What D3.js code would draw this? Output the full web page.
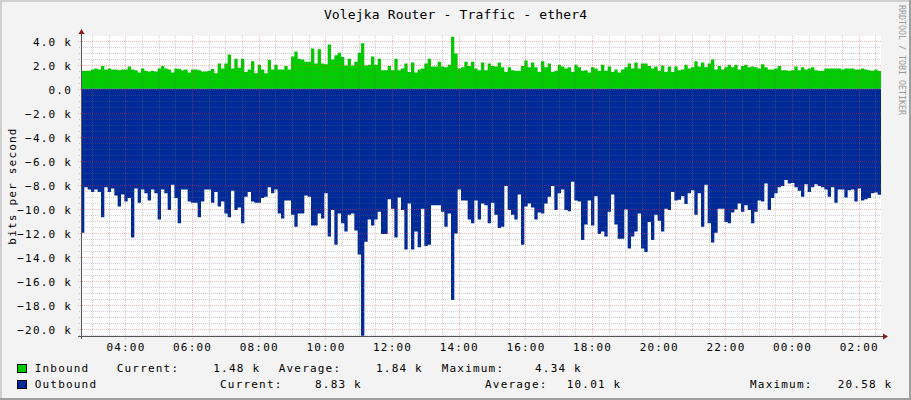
<!DOCTYPE html>
<html>
<head>
<meta charset="utf-8">
<script src="https://cdn.jsdelivr.net/npm/d3@7"></script>
<style>
  body { margin: 0; background: #f3f3f3; }
  svg { display: block; }
  text { font-family: "DejaVu Sans Mono", monospace; fill: #000; }
  .lbl { font-size: 11px; letter-spacing: 1.2px; }
</style>
</head>
<body>
<script>
/* global d3 */

// traffic samples, one every 6 minutes, in kbit/s (outbound drawn below zero)
const inbound = [
  1.5, 1.5, 1.5, 1.6, 1.7, 1.6, 1.9, 1.6, 1.7, 1.6, 1.6, 1.55, 1.6, 1.6, 1.85, 1.6, 1.55, 1.35, 1.7, 1.5,
  1.45, 1.5, 1.45, 1.7, 1.9, 1.7, 1.6, 1.35, 1.7, 1.65, 1.55, 1.6, 1.35, 1.6, 1.6, 1.55, 1.45, 1.45, 1.5, 1.65,
  1.3, 2.1, 1.7, 2.1, 2.85, 1.7, 2.5, 1.75, 2.5, 1.4, 1.6, 2.3, 1.3, 2.0, 1.6, 1.3, 2.4, 1.6, 2.0, 1.6,
  1.6, 1.9, 1.6, 2.7, 3.1, 2.5, 2.45, 2.25, 2.25, 3.35, 2.1, 3.3, 2.1, 2.05, 3.7, 2.45, 2.8, 3.0, 2.65, 1.95,
  2.5, 1.95, 2.25, 3.0, 3.8, 1.95, 2.0, 2.7, 2.0, 2.5, 1.55, 1.55, 1.9, 1.55, 2.5, 1.55, 1.7, 2.1, 1.4, 2.2,
  1.35, 1.6, 1.7, 2.1, 2.5, 1.85, 1.85, 2.25, 1.85, 1.8, 2.0, 4.34, 2.95, 1.7, 1.8, 2.25, 1.9, 2.25, 1.7, 1.55,
  2.2, 1.55, 2.1, 1.9, 1.85, 2.2, 1.8, 1.4, 1.8, 1.55, 1.5, 1.5, 1.9, 2.35, 1.8, 2.2, 1.8, 1.4, 2.3, 1.8,
  2.1, 1.4, 1.5, 2.0, 1.85, 1.7, 1.8, 1.4, 2.0, 1.8, 1.5, 1.55, 1.35, 1.8, 1.7, 1.5, 2.0, 1.5, 1.85, 1.4,
  1.6, 1.35, 1.6, 1.8, 2.1, 1.7, 2.2, 1.7, 2.1, 2.1, 1.9, 1.7, 1.85, 1.5, 1.95, 1.4, 1.85, 1.4, 1.85, 1.55,
  1.6, 2.0, 1.7, 1.8, 2.3, 1.85, 2.2, 1.8, 2.1, 2.45, 1.6, 1.9, 1.6, 1.8, 2.0, 1.8, 2.0, 1.6, 1.9, 2.0,
  1.8, 1.85, 1.8, 1.7, 2.05, 1.8, 1.6, 1.6, 1.7, 1.9, 1.55, 1.55, 1.5, 1.55, 1.85, 1.55, 1.8, 1.6, 1.7, 1.8,
  1.55, 1.5, 1.5, 1.7, 1.7, 1.7, 1.7, 1.7, 1.6, 1.7, 1.7, 1.7, 1.6, 1.6, 1.7, 1.6, 1.55, 1.5, 1.6, 1.48
];
const outbound = [
  12.0, 8.2, 8.4, 8.6, 8.4, 8.6, 10.7, 8.2, 8.6, 8.3, 8.9, 9.8, 8.8, 9.4, 9.1, 12.4, 8.3, 9.5, 8.4, 8.7,
  9.3, 8.4, 8.7, 10.9, 8.4, 8.7, 10.1, 8.0, 9.1, 11.2, 8.4, 8.4, 9.4, 9.5, 9.5, 10.7, 9.4, 8.4, 8.4, 9.5,
  8.6, 9.8, 9.4, 10.4, 10.7, 8.5, 10.1, 9.9, 11.2, 9.0, 8.6, 9.4, 9.5, 9.5, 9.1, 9.0, 8.2, 8.7, 8.4, 10.4,
  10.8, 9.3, 9.3, 10.5, 11.5, 10.4, 10.4, 8.9, 9.0, 11.4, 11.4, 10.4, 10.8, 8.7, 12.3, 10.1, 13.0, 10.4, 11.2, 11.9,
  10.5, 10.4, 11.8, 13.8, 20.58, 12.75, 10.9, 11.4, 10.9, 10.25, 12.1, 12.1, 9.2, 10.0, 12.4, 9.05, 10.1, 13.4, 9.55, 13.4,
  11.9, 13.2, 10.0, 13.1, 13.0, 9.7, 9.7, 9.7, 10.25, 11.5, 10.4, 17.6, 12.05, 8.4, 9.3, 9.3, 10.9, 11.2, 9.3, 10.9,
  9.55, 9.7, 11.2, 9.5, 10.5, 11.6, 11.5, 8.1, 10.1, 10.5, 10.9, 8.8, 13.0, 9.8, 9.55, 9.9, 10.9, 10.3, 10.4, 9.55,
  9.0, 8.1, 10.1, 8.7, 8.4, 10.1, 10.2, 7.75, 9.3, 9.4, 12.6, 11.3, 9.3, 11.4, 8.95, 12.1, 11.9, 12.3, 10.25, 8.8,
  11.3, 12.5, 12.5, 10.05, 13.3, 12.3, 11.9, 10.4, 13.3, 13.6, 11.1, 12.6, 10.5, 11.0, 11.9, 10.0, 10.1, 8.6, 9.3, 9.25,
  8.95, 9.6, 8.7, 8.45, 10.5, 8.7, 11.5, 8.0, 11.2, 12.8, 12.0, 10.0, 10.0, 11.1, 11.2, 10.3, 10.05, 9.55, 10.25, 9.7,
  10.1, 11.2, 10.25, 9.3, 9.4, 7.9, 10.1, 9.1, 8.7, 8.2, 8.1, 7.6, 7.9, 7.85, 8.2, 8.5, 9.0, 7.95, 8.6, 8.2,
  7.95, 8.1, 8.2, 8.4, 9.0, 8.2, 9.5, 8.4, 8.4, 9.05, 8.45, 8.4, 9.4, 8.3, 9.3, 9.2, 9.1, 8.7, 8.65, 8.83
];

const yTicks = [-20, -18, -16, -14, -12, -10, -8, -6, -4, -2, 0, 2, 4];

const legendNames = ['Inbound', 'Outbound'];
const legendColors = ['#00cc00', '#002a97'];
const legendCurrent = ['1.48 k', '8.83 k'];
const legendAverage = ['1.84 k', '10.01 k'];
const legendMaximum = ['4.34 k', '20.58 k'];

const title = 'Volejka Router - Traffic - ether4';
const yTitle = 'bits per second';
const watermark = 'RRDTOOL / TOBI OETIKER';

(function() {
  'use strict';

  const w = 911;
  const h = 400;
  const left = 81;
  const right = 881;
  const top = 36;
  const bottom = 336;

  const start = new Date(2020, 0, 15, 2, 40);
  const end = d3.timeHour.offset(start, 24);
  const stepMin = 6;
  const times = inbound.map((d, i) => d3.timeMinute.offset(start, i * stepMin));

  const xScale = d3.scaleTime().domain([start, end]).range([left, right]);
  const yScale = d3.scaleLinear().domain([-20.6, 4.4]).range([bottom, top]);

  const svg = d3.select('body').append('svg')
    .attr('width', w)
    .attr('height', h);

  // background + 3d frame
  svg.append('rect').attr('width', w).attr('height', h).attr('fill', '#f3f3f3');
  svg.append('rect').attr('x', 0).attr('y', 0).attr('width', w).attr('height', 2).attr('fill', '#cfcfcf');
  svg.append('rect').attr('x', 0).attr('y', 0).attr('width', 2).attr('height', h).attr('fill', '#cfcfcf');
  svg.append('rect').attr('x', 0).attr('y', h - 2).attr('width', w).attr('height', 2).attr('fill', '#9e9e9e');
  svg.append('rect').attr('x', w - 2).attr('y', 0).attr('width', 2).attr('height', h).attr('fill', '#9e9e9e');

  // canvas
  svg.append('rect')
    .attr('x', left).attr('y', top)
    .attr('width', right - left).attr('height', bottom - top)
    .attr('fill', '#fff');

  // areas, closing the last step at the end of the window
  const rows = times.map((t, i) => ({ t: t, inb: inbound[i], out: outbound[i] }));
  rows.push({ t: end, inb: inbound[inbound.length - 1], out: outbound[outbound.length - 1] });

  svg.append('path')
    .datum(rows)
    .attr('fill', '#00cc00')
    .attr('d', d3.area()
      .curve(d3.curveStepAfter)
      .x(d => xScale(d.t))
      .y0(yScale(0))
      .y1(d => yScale(d.inb)));

  svg.append('path')
    .datum(rows)
    .attr('fill', '#002a97')
    .attr('d', d3.area()
      .curve(d3.curveStepAfter)
      .x(d => xScale(d.t))
      .y0(yScale(0))
      .y1(d => yScale(-d.out)));

  // grid on top of the data: half hour slots, every 4th one is a 2 hour mark
  const firstSlot = d3.timeMinute.offset(start, 20); // 03:00
  const slots = d3.range(48).map(k => ({ t: d3.timeMinute.offset(firstSlot, 30 * k), major: k % 4 === 2 }));
  const minorX = slots.filter(s => !s.major).map(s => s.t);
  const majorX = slots.filter(s => s.major).map(s => s.t);
  const minorY = d3.range(-41, 9).map(k => k / 2).filter(v => v % 2 !== 0);

  const crisp = v => Math.round(v) + 0.5;
  const minorColor = 'rgba(110,110,110,0.32)';
  const majorColor = 'rgba(250,60,60,0.38)';

  const grid = svg.append('g')
    .attr('stroke-width', 1)
    .attr('stroke-dasharray', '1,1')
    .attr('shape-rendering', 'crispEdges');

  grid.append('g').selectAll('line').data(minorX).enter().append('line')
    .attr('x1', d => crisp(xScale(d))).attr('x2', d => crisp(xScale(d)))
    .attr('y1', top).attr('y2', bottom + 2)
    .attr('stroke', minorColor);
  grid.append('g').selectAll('line').data(minorY).enter().append('line')
    .attr('x1', left - 2).attr('x2', right)
    .attr('y1', d => crisp(yScale(d))).attr('y2', d => crisp(yScale(d)))
    .attr('stroke', minorColor);
  grid.append('g').selectAll('line').data(majorX).enter().append('line')
    .attr('x1', d => crisp(xScale(d))).attr('x2', d => crisp(xScale(d)))
    .attr('y1', top).attr('y2', bottom + 3)
    .attr('stroke', majorColor);
  grid.append('g').selectAll('line').data(yTicks).enter().append('line')
    .attr('x1', left - 3).attr('x2', right)
    .attr('y1', d => crisp(yScale(d))).attr('y2', d => crisp(yScale(d)))
    .attr('stroke', majorColor);

  // axis lines with arrows
  svg.append('line')
    .attr('x1', left - 3).attr('x2', right + 2)
    .attr('y1', bottom + 0.5).attr('y2', bottom + 0.5)
    .attr('stroke', '#555');
  svg.append('line')
    .attr('x1', left + 0.5).attr('x2', left + 0.5)
    .attr('y1', bottom + 3).attr('y2', top - 3)
    .attr('stroke', '#555');
  svg.append('path')
    .attr('d', `M${right + 2},${bottom - 2.5}L${right + 7},${bottom + 0.5}L${right + 2},${bottom + 3.5}Z`)
    .attr('fill', '#8b1a1a');
  svg.append('path')
    .attr('d', `M${left - 2.5},${top - 2}L${left + 0.5},${top - 7}L${left + 3.5},${top - 2}Z`)
    .attr('fill', '#8b1a1a');

  // axis labels
  const xAxis = d3.axisBottom(xScale)
    .tickValues(majorX)
    .tickFormat(d3.timeFormat('%H:%M'))
    .tickSize(0)
    .tickPadding(7);
  const gx = svg.append('g')
    .attr('transform', 'translate(0,' + bottom + ')')
    .call(xAxis);
  gx.select('.domain').remove();
  gx.selectAll('text').attr('class', 'lbl').attr('fill', '#000');

  const yAxis = d3.axisLeft(yScale)
    .tickValues(yTicks)
    .tickFormat(d => d === 0 ? '0.0' : d3.format('.1f')(d) + ' k')
    .tickSize(0)
    .tickPadding(9);
  const gy = svg.append('g')
    .attr('transform', 'translate(' + left + ',0)')
    .call(yAxis);
  gy.select('.domain').remove();
  gy.selectAll('text').attr('class', 'lbl').attr('fill', '#000').attr('dy', '0.4em');
  svg.selectAll('.tick text').style('font-family', '"DejaVu Sans Mono", monospace');

  // titles
  svg.append('text')
    .attr('x', 455.5).attr('y', 19)
    .attr('text-anchor', 'middle')
    .style('font-size', '13px')
    .style('letter-spacing', '0.15px')
    .text(title);

  svg.append('text')
    .attr('class', 'lbl')
    .attr('transform', 'translate(16,186) rotate(-90)')
    .attr('text-anchor', 'middle')
    .text(yTitle);

  svg.append('text')
    .attr('transform', 'translate(899,5) rotate(90)')
    .style('font-size', '8.3px')
    .style('fill', '#9a9a9a')
    .text(watermark);

  // legend
  const rowY = [372, 388];
  const pos = [
    { cur: 116.7, curV: 213.3, avg: 278.7, avgV: 376, max: 441.7, maxV: 535 },
    { cur: 220, curV: 315, avg: 485, avgV: 566.7, max: 750, maxV: 837.7 }
  ];
  legendNames.forEach((name, i) => {
    const y = rowY[i];
    const p = pos[i];
    svg.append('rect')
      .attr('x', 17.5).attr('y', y - 7.5)
      .attr('width', 9).attr('height', 8)
      .attr('fill', legendColors[i])
      .attr('stroke', '#000');
    const items = [
      [34.7, name], [p.cur, 'Current:'], [p.curV, legendCurrent[i]],
      [p.avg, 'Average:'], [p.avgV, legendAverage[i]],
      [p.max, 'Maximum:'], [p.maxV, legendMaximum[i]]
    ];
    items.forEach(it => {
      svg.append('text')
        .attr('class', 'lbl')
        .attr('x', it[0]).attr('y', y)
        .text(it[1]);
    });
  });
}());
</script>
</body>
</html>
